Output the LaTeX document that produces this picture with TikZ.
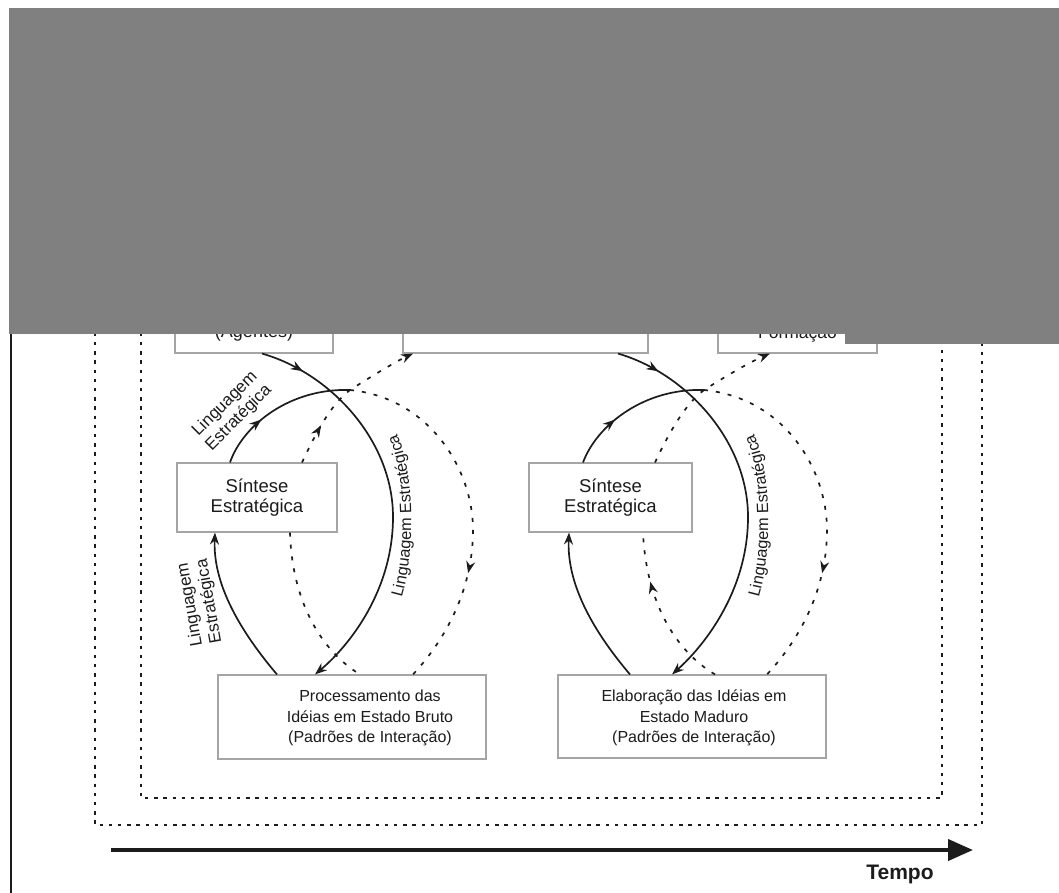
\documentclass[tikz,border=0pt]{standalone}
\usepackage{fontspec}
\setmainfont{Liberation Sans}
\usetikzlibrary{arrows.meta,decorations.markings,decorations.text}
\definecolor{boxgray}{RGB}{165,165,165}
\definecolor{ink}{RGB}{28,28,28}
\definecolor{mask}{RGB}{128,128,128}
\newcommand\arclblfont{\fontsize{16.3}{18}\selectfont}
\tikzset{
  box/.style={draw=boxgray, line width=1.1pt, fill=white, align=center, inner sep=0pt, text=ink},
  solidarc/.style={draw=ink, line width=1.7pt},
  dotarc/.style={draw=ink, line width=1.7pt, dash pattern=on 4pt off 8pt},
  tipend/.style={-{Stealth[length=12pt,width=9pt]}},
  midtip/.style={postaction={decorate}, decoration={markings, mark=at position #1 with {\arrow{Stealth[length=12pt,width=9pt]}}}},
  framedots/.style={draw=ink, line width=2pt, dash pattern=on 3.3pt off 5.9pt},
  lbl/.style={font=\fontsize{17}{19.5}\selectfont, align=center, text=ink, inner sep=0pt},
  boxtxt/.style={font=\fontsize{16}{20.3}\selectfont, align=center, text=ink, inner sep=0pt},
  sinttxt/.style={font=\fontsize{18.5}{20.7}\selectfont},
  arclbl/.style={decorate, decoration={text along path, text align=center, text color=ink, text={|\arclblfont|Linguagem Estratégica}}},
}
\begin{document}
\begin{tikzpicture}[x=1pt,y=-1pt]
\useasboundingbox (0,0) rectangle (1059,893);

% frames
\coordinate (fa) at (11,334);
\coordinate (fb) at (11,893);
\draw[ink, line width=2pt] (fa) -- (fb);
\draw[framedots] (95,250) |- (982,825) -- (982,250);
\draw[framedots] (141,250) |- (942,798) -- (942,250);

% top boxes (mostly hidden)
\node[box, minimum width=158pt, minimum height=63pt] (agentes) at (254,321.5) {};
\node[box, minimum width=245pt, minimum height=63pt] (mid) at (525.5,321.5) {};
\node[box, minimum width=159pt, minimum height=63pt] (forma) at (797.5,321.5) {};
\node[anchor=base, font=\fontsize{18}{21}\selectfont, text=ink, inner sep=0pt] (agtxt) at (254,337) {(Agentes)};
\node[anchor=base, font=\fontsize{17.5}{21}\selectfont, text=ink, inner sep=0pt] (fmtxt) at (797.5,338) {Formação};

% middle boxes
\node[box, sinttxt, minimum width=160pt, minimum height=69pt] (sintL) at (257,497.5) {Síntese\\Estratégica};
\node[box, sinttxt, minimum width=163pt, minimum height=69pt] (sintR) at (610.5,497.5) {Síntese\\Estratégica};

% bottom boxes
\node[box, minimum width=268pt, minimum height=84pt] (procL) at (352,717) {};
\node[boxtxt] (procLtxt) at (370,718) {Processamento das\\Idéias em Estado Bruto\\(Padrões de Interação)};
\node[box, minimum width=268pt, minimum height=83pt] (procR) at (692,716.5) {};
\node[boxtxt] (procRtxt) at (694,718) {Elaboração das Idéias em\\Estado Maduro\\(Padrões de Interação)};

\coordinate (jL) at (350,390);
\coordinate (jR) at (704,390);

% ---------- left cycle ----------
\draw[solidarc, tipend, midtip=0.11] ([xshift=8pt]agentes.south) .. controls (330,373) and (393,440) .. (393,517) .. controls (393,590) and (350,645) .. ([xshift=-37pt]procL.north);
\draw[solidarc, midtip=0.36] ([xshift=-27pt]sintL.north) .. controls (243,425) and (290,388) .. (jL);
\draw[dotarc, tipend, midtip=0.26] ([xshift=45pt]sintL.north) .. controls (315,435) and (330,405) .. (jL) .. controls (372,376) and (395,362) .. ([xshift=-112.5pt]mid.south);
\draw[dotarc, midtip=0.68] (jL) .. controls (430,398) and (473,470) .. (473,530) .. controls (473,590) and (445,640) .. ([xshift=61pt]procL.north);
\draw[dotarc] ([xshift=33pt]sintL.south) .. controls (292,600) and (320,650) .. ([xshift=8pt]procL.north);
\draw[solidarc, tipend] ([xshift=-75pt]procL.north) .. controls (235,625) and (213,580) .. ([xshift=-42pt]sintL.south);

% ---------- right cycle ----------
\draw[solidarc, tipend, midtip=0.11] ([xshift=92.5pt]mid.south) .. controls (685,373) and (748,440) .. (748,517) .. controls (748,590) and (705,645) .. ([xshift=-20pt]procR.north);
\draw[solidarc, midtip=0.36] ([xshift=-27.5pt]sintR.north) .. controls (597,425) and (644,388) .. (jR);
\draw[dotarc, tipend] ([xshift=44.5pt]sintR.north) .. controls (668,435) and (684,405) .. (jR) .. controls (726,376) and (750,362) .. ([xshift=-27.5pt]forma.south);
\draw[dotarc, midtip=0.68] (jR) .. controls (785,398) and (827,470) .. (827,530) .. controls (827,590) and (799,640) .. ([xshift=75pt]procR.north);
\draw[dotarc, midtip=0.7] ([xshift=23pt]procR.north) .. controls (674,650) and (646,600) .. ([xshift=32.5pt]sintR.south);
\draw[solidarc, tipend] ([xshift=-62pt]procR.north) .. controls (588,625) and (567,580) .. ([xshift=-41.5pt]sintR.south);

% labels
\node[lbl, rotate=45] (lblA) at (232,411) {Linguagem\\Estratégica};
\node[lbl, rotate=100] (lblB) at (200,603) {Linguagem\\Estratégica};
\path[arclbl] (400,604) .. controls (415,560) and (417,470) .. (394,428);
\path[arclbl] (757,604) .. controls (772,560) and (774,470) .. (751,428);

% time arrow
\coordinate (tstart) at (111,850);
\coordinate (tend) at (973,850);
\draw[ink, line width=4pt, -{Triangle[length=25pt,width=21pt]}] (tstart) -- (tend);
\node[font=\bfseries\fontsize{21}{24}\selectfont, text=ink, inner sep=0pt] (tempo) at (900,874) {Tempo};

% grey mask
\fill[mask] (9,8) rectangle (1059,334);
\fill[mask] (845,333) rectangle (1059,344);
\end{tikzpicture}
\end{document}
